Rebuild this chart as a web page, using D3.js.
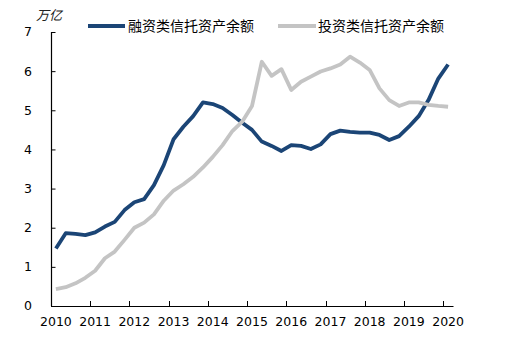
<!DOCTYPE html>
<html>
<head>
<meta charset="utf-8">
<script src="https://cdn.jsdelivr.net/npm/d3@7"></script>
<style>
  html, body { margin: 0; padding: 0; background: #fff; }
  svg { display: block; }
</style>
</head>
<body>
<svg id="chart" width="510" height="343"></svg>
<script>
// Quarterly trust asset balances, 2010Q1 – 2020Q1 (万亿元)
const years = [2010, 2011, 2012, 2013, 2014, 2015, 2016, 2017, 2018, 2019, 2020];
const quarters = [];
years.forEach(yr => [1, 2, 3, 4].forEach(q => { if (yr < 2020 || q === 1) quarters.push(yr + "Q" + q); }));

const financingTrust = [
  1.47, 1.86, 1.84, 1.81, 1.88, 2.03, 2.15, 2.45, 2.65, 2.73,
  3.09, 3.60, 4.26, 4.58, 4.85, 5.20, 5.16, 5.06, 4.88, 4.68,
  4.50, 4.20, 4.09, 3.96, 4.11, 4.09, 4.01, 4.13, 4.39, 4.48,
  4.45, 4.43, 4.43, 4.37, 4.24, 4.34, 4.58, 4.85, 5.26, 5.81,
  6.17
];
const investmentTrust = [
  0.43, 0.48, 0.58, 0.72, 0.90, 1.22, 1.39, 1.69, 2.00, 2.13,
  2.34, 2.69, 2.95, 3.11, 3.30, 3.54, 3.81, 4.11, 4.47, 4.71,
  5.11, 6.24, 5.88, 6.05, 5.52, 5.73, 5.86, 5.99, 6.07, 6.17,
  6.37, 6.22, 6.03, 5.56, 5.26, 5.11, 5.20, 5.20, 5.14, 5.11,
  5.09
];
const yTicks = [0, 1, 2, 3, 4, 5, 6, 7];
const seriesNames = ["融资类信托资产余额", "投资类信托资产余额"];
const unitLabel = "万亿";

const svg = d3.select("#chart");
const plotLeft = 51, plotRight = 453, plotTop = 32, plotBottom = 306;

const x = d3.scaleBand().domain(quarters).range([plotLeft, plotRight]).padding(0);
const y = d3.scaleLinear().domain([0, 7]).range([plotBottom, plotTop]);
const cx = q => x(q) + x.bandwidth() / 2;

const tickFont = "DejaVu Sans, Verdana, sans-serif";
const cjkFont = "'Noto Sans CJK SC', sans-serif";

// y axis: inward ticks, labels on the left
const yAxis = svg.append("g").attr("transform", `translate(${plotLeft},0)`)
  .call(d3.axisRight(y).tickValues(yTicks).tickSize(4).tickFormat(""));
yAxis.select(".domain").attr("d", `M0.5,${plotTop}V${plotBottom}`)
  .attr("stroke", "#000").attr("stroke-width", 1.2);
yAxis.selectAll(".tick line").attr("x1", 0.5).attr("x2", 4.5).attr("stroke", "#000");

svg.append("g").selectAll("text").data(yTicks).join("text")
  .attr("x", 32).attr("y", d => y(d)).attr("dy", "0.35em")
  .attr("text-anchor", "end")
  .attr("font-family", tickFont).attr("font-size", 12.5).attr("fill", "#000")
  .text(d => d);

// x axis: year ticks on the first quarter of each year, pointing up
const yearStarts = quarters.filter(q => q.endsWith("Q1"));
const xAxisG = svg.append("g");
xAxisG.append("line")
  .attr("x1", plotLeft).attr("x2", plotRight + 0.5)
  .attr("y1", plotBottom + 0.5).attr("y2", plotBottom + 0.5)
  .attr("stroke", "#000").attr("stroke-width", 1.2);
xAxisG.selectAll("line.tick").data(yearStarts).join("line")
  .attr("class", "tick")
  .attr("x1", d => Math.round(x(d)) + 0.5).attr("x2", d => Math.round(x(d)) + 0.5)
  .attr("y1", plotBottom).attr("y2", plotBottom - 5)
  .attr("stroke", "#000");
xAxisG.selectAll("text").data(yearStarts).join("text")
  .attr("x", d => cx(d)).attr("y", plotBottom + 20)
  .attr("text-anchor", "middle")
  .attr("font-family", tickFont).attr("font-size", 12.5).attr("fill", "#000")
  .text(d => d.slice(0, 4));

// unit label
svg.append("text").attr("x", 49).attr("y", 20).attr("text-anchor", "middle")
  .attr("font-family", cjkFont).attr("font-size", 13).attr("font-style", "italic")
  .attr("fill", "#222").text(unitLabel);

// series lines (investment series drawn on top)
const colors = ["#1b4576", "#c4c4c4"];
const series = [financingTrust, investmentTrust];
const line = d3.line().x((d, i) => cx(quarters[i])).y(d => y(d)).curve(d3.curveLinear);
svg.append("g").selectAll("path").data(series).join("path")
  .attr("d", line)
  .attr("fill", "none")
  .attr("stroke", (d, i) => colors[i])
  .attr("stroke-width", 3.8)
  .attr("stroke-linejoin", "round");

// legend
const legendItems = [
  { name: seriesNames[0], color: colors[0], x0: 88, x1: 125, tx: 128 },
  { name: seriesNames[1], color: colors[1], x0: 278, x1: 316, tx: 318 }
];
const lg = svg.append("g").selectAll("g").data(legendItems).join("g");
lg.append("line")
  .attr("x1", d => d.x0).attr("x2", d => d.x1).attr("y1", 26).attr("y2", 26)
  .attr("stroke", d => d.color).attr("stroke-width", 4);
lg.append("text")
  .attr("x", d => d.tx).attr("y", 26).attr("dy", "0.35em")
  .attr("font-family", cjkFont).attr("font-size", 14).attr("fill", "#000")
  .text(d => d.name);
</script>
</body>
</html>
